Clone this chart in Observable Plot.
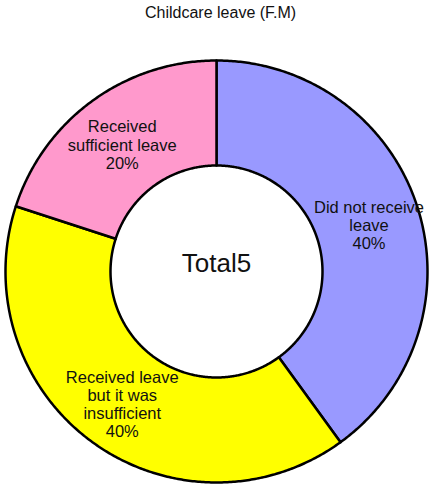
<!DOCTYPE html>
<html>
<head>
<meta charset="utf-8">
<script src="https://cdn.jsdelivr.net/npm/d3@7"></script>
<script src="https://cdn.jsdelivr.net/npm/@observablehq/plot@0.6"></script>
<style>
  html, body { margin: 0; padding: 0; background: #fff; }
  #wrap { position: relative; width: 430px; height: 486px; font-family: "Liberation Sans", Arial, sans-serif; }
  #title { position: absolute; left: 145px; top: 4px; width: 167px; overflow: hidden; white-space: nowrap;
           font-size: 16px; color: #111; }
</style>
</head>
<body>
<div id="wrap">
  <div id="chart"></div>
  <div id="title"></div>
</div>
<script>
const title = "Childcare leave (F.M)";
const categories = ["Did not receive\nleave", "Received leave\nbut it was\ninsufficient", "Received\nsufficient leave"];
const counts = [2, 2, 1];
const colors = ["#9999ff", "#ffff00", "#ff99cc"];
const centerLabel = "Total5";

document.getElementById("title").textContent = title;

const total = d3.sum(counts);
const W = 430, H = 486;
const cx = 216, cy = 271, R = 211;
const innerFrac = 106 / 211;

const pie = d3.pie().sort(null).value(d => d.v);
const slices = pie(categories.map((c, i) => ({c, v: counts[i], color: colors[i]})));

function pt(a, r) { return {x: Math.sin(a) * r, y: Math.cos(a) * r}; }

const marks = [];
slices.forEach((s, i) => {
  const pts = [];
  const n = Math.max(8, Math.ceil((s.endAngle - s.startAngle) / (Math.PI / 360)));
  for (let k = 0; k <= n; k++) pts.push(pt(s.startAngle + (s.endAngle - s.startAngle) * k / n, 1));
  for (let k = n; k >= 0; k--) pts.push(pt(s.startAngle + (s.endAngle - s.startAngle) * k / n, innerFrac));
  pts.push(pts[0]);
  marks.push(Plot.line(pts, {x: "x", y: "y", fill: s.data.color, stroke: "black", strokeWidth: 2.5, strokeLinejoin: "round", curve: "linear"}));
});

const labels = slices.map(s => {
  const a = (s.startAngle + s.endAngle) / 2;
  const r = 0.76;
  const p = pt(a, r);
  return {x: p.x, y: p.y, text: s.data.c + "\n" + Math.round(s.data.v / total * 100) + "%"};
});
marks.push(Plot.text(labels, {x: "x", y: "y", text: "text", dy: 3, fontSize: 16.5, lineHeight: 1.1, fill: "#111", fontFamily: "Liberation Sans, Arial, sans-serif"}));
marks.push(Plot.text([{x: 0, y: 8 / R, t: centerLabel}], {x: "x", y: "y", text: "t", fontSize: 26, fill: "#111", fontFamily: "Liberation Sans, Arial, sans-serif"}));

const chart = Plot.plot({
  width: W, height: H,
  margin: 0,
  x: {type: "linear", domain: [-cx / R, (W - cx) / R], range: [0, W], axis: null},
  y: {type: "linear", domain: [cy / R, -(H - cy) / R], range: [0, H], axis: null},
  style: {background: "white", overflow: "visible"},
  marks
});
document.getElementById("chart").appendChild(chart);
</script>
</body>
</html>
